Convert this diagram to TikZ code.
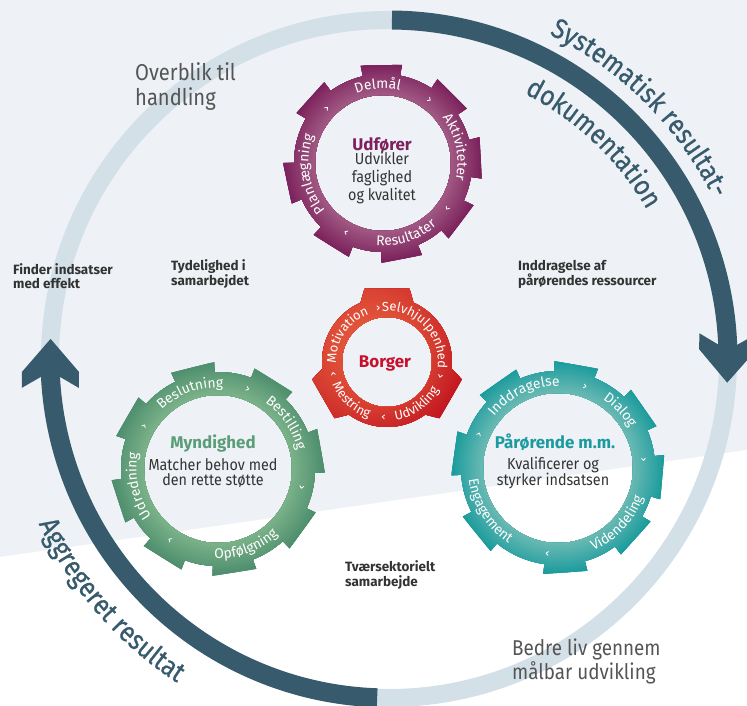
\documentclass[tikz,border=0pt]{standalone}
\usepackage{fontspec}
\setmainfont{Fira Sans}
\newfontfamily\cf[FakeStretch=0.9]{Fira Sans}
\newfontfamily\cfb[FakeStretch=0.88]{Fira Sans}
\newfontfamily\cfh[FakeStretch=0.88,FakeBold=0.6]{Fira Sans}
\usetikzlibrary{decorations.text}
\definecolor{bgc}{HTML}{EEF2F6}
\definecolor{ringlight}{HTML}{D3E0E8}
\definecolor{ringdark}{HTML}{375B6D}
\definecolor{pL}{HTML}{A25B85}
\definecolor{pD}{HTML}{781C58}
\definecolor{rL}{HTML}{E8603F}
\definecolor{rD}{HTML}{C0121F}
\definecolor{gL}{HTML}{7CB38A}
\definecolor{gD}{HTML}{4A8B6B}
\definecolor{tL}{HTML}{6CBAB4}
\definecolor{tD}{HTML}{14999B}
\definecolor{ptitle}{HTML}{7E1F5F}
\definecolor{rtitle}{HTML}{C8102E}
\definecolor{gtitle}{HTML}{5A9D78}
\definecolor{ttitle}{HTML}{1B9AA0}
\definecolor{bodytxt}{HTML}{333333}
\definecolor{greytxt}{HTML}{555555}
\newcommand\gearextrar{\shade[top color=rL, bottom color=rD, shading angle=45, opacity=0.65] (-80,-80) rectangle (80,80);}
% gear: #1 centre, #2 inner r, #3 body r, #4 tooth r, #5 half angle base, #6 half angle top,
% #7 last tooth angle minus 360, #8 ascending tooth angles, #9 colour prefix
\newcommand\gear[9]{%
  \begin{scope}[shift={#1}]
  \begin{scope}[even odd rule]
    \clip ({#7+#5}:#3)
      \foreach \a [remember=\a as \p (initially #7)] in {#8} {
        arc[start angle={\p+#5}, end angle={\a-#5}, radius=#3]
        -- ({\a-#6}:#4) -- ({\a+#6}:#4) -- ({\a+#5}:#3)
      } -- cycle (0,0) circle[radius=#2];
    \foreach \i in {0,...,24} {
      \pgfmathsetmacro\rr{#4+2-\i*(#4+2-#2)/24}
      \pgfmathtruncatemacro\pc{100-\i*100/24}
      \fill[#9D!\pc!#9L] (0,0) circle[radius=\rr];
    }
    \csname gearextra#9\endcsname
  \end{scope}
  \end{scope}}
\newcommand\ringsize{14}
\newcommand\ringfont{\fontsize{\ringsize}{\ringsize}\selectfont\color{white}}
\newcommand\cwl[3]{\path[decorate,decoration={text along path,text align=center,text={|\ringfont|#3}}] ({#1+75}:#2) arc[start angle={#1+75},end angle={#1-75},radius=#2];}
\newcommand\ccwl[3]{\path[decorate,decoration={text along path,text align=center,text={|\ringfont|#3}}] ({#1-75}:#2) arc[start angle={#1-75},end angle={#1+75},radius=#2];}
\newcommand\chev[2]{\draw[chevst] ({#1}:#2) ++({#1+50}:3) -- ({#1}:#2) -- ++({#1-230}:3);}
\newcommand\bigfont{\cfh\fontsize{28}{28}\selectfont\color{ringdark}}
\begin{document}
\begin{tikzpicture}[x=1bp,y=1bp,
  chevst/.style={white, line width=0.8bp, line cap=round, line join=round},
  lbl/.style={inner sep=0pt, anchor=base},
  lblw/.style={inner sep=0pt, anchor=base west},
  title/.style={lbl, font=\fontsize{17}{17}\selectfont\bfseries},
  body/.style={lbl, text=bodytxt, font=\cf\fontsize{16}{16}\selectfont},
  small/.style={lblw, text=bodytxt, font=\fontsize{13.5}{13.5}\selectfont\bfseries},
  light/.style={lblw, text=greytxt},
  arrowhd/.style={fill=ringdark}]
\useasboundingbox (0,0) rectangle (747,706);
\fill[bgc] (0,0) rectangle (747,706);
\fill[white] (0,0) -- (0,149) -- (747,256) -- (747,0) -- cycle;
% big cycle
\coordinate (O) at (389,347);
\draw[ringlight, line width=18bp] (O) circle[radius=339];
\draw[ringdark, line width=19bp] ([shift={(89.5:339)}]O) arc[start angle=89.5,end angle=2.2,radius=339];
\draw[ringdark, line width=19bp] ([shift={(268:339)}]O) arc[start angle=268,end angle=182.8,radius=339];
\begin{scope}[shift={(O)}, shift={(-4:339)}, rotate=-90.8]
  \fill[arrowhd] (0,0) -- (-33,28.5) -- (-49,28.5) -- (-38,9.5) -- (-38,-9.5) -- (-49,-28.5) -- (-33,-28.5) -- cycle;
\end{scope}
\begin{scope}[shift={(O)}, shift={(176.6:339)}, rotate=89.8]
  \fill[arrowhd] (0,0) -- (-33,28.5) -- (-49,28.5) -- (-38,9.5) -- (-38,-9.5) -- (-49,-28.5) -- (-33,-28.5) -- cycle;
\end{scope}
% big curved labels
\begin{scope}[shift={(O)}]
\path[decorate,decoration={text along path,text align=center,text={|\bigfont|Systematisk resultat-}}] (120:362) arc[start angle=120,end angle=-30,radius=362];
\path[decorate,decoration={text along path,text align=center,text={|\bigfont|dokumentation}}] (121.5:298) arc[start angle=121.5,end angle=-28.5,radius=298];
\path[decorate,decoration={text along path,text align=center,text={|\bigfont|Aggregeret resultat}}] (146:387) arc[start angle=146,end angle=296,radius=387];
\end{scope}
% gears
\gear{(383,543)}{68}{89}{100}{12}{12}{-222}{-168,-122,-79,-37,3,45,91,138}{p}
\gear{(387,344)}{45}{65}{77}{24}{17}{-30}{90,210,330}{r}
\gear{(218,237)}{74}{97}{107}{12}{12}{-210}{-162,-122,-81,-36,10,58,104,150}{g}
\gear{(558,238)}{75}{97}{107}{12}{12}{-5}{35,80,125,172,219,274,318,355}{t}
% ring labels
\begin{scope}[shift={(383,543)}]
  \cwl{94}{74.5}{Delmål}
  \cwl{12}{74.5}{Aktiviteter}
  \ccwl{-72}{82.5}{Resultater}
  \cwl{189}{74.5}{Planlægning}
  \chev{135}{78.5}\chev{53}{78.5}\chev{-36}{78.5}\chev{-119}{78.5}
\end{scope}
\renewcommand\ringsize{13}
\begin{scope}[shift={(387,344)}]
  \cwl{146}{51}{Motivation}
  \cwl{44}{51}{Selvhjulpenhed}
  \ccwl{-55}{59}{Udvikling}
  \ccwl{227}{59}{Mestring}
  \chev{98}{55}\chev{-16}{55}\chev{-95}{55}\chev{191}{55}
\end{scope}
\renewcommand\ringsize{14}
\begin{scope}[shift={(218,237)}]
  \cwl{110}{81.5}{Beslutning}
  \cwl{34}{81.5}{Bestilling}
  \ccwl{-70}{89.5}{Opfølgning}
  \cwl{192}{81.5}{Udredning}
  \chev{69}{85.5}\chev{-13}{85.5}\chev{235}{85.5}\chev{149}{85.5}
\end{scope}
\begin{scope}[shift={(558,238)}]
  \cwl{115}{82}{Inddragelse}
  \cwl{43}{82}{Dialog}
  \ccwl{-43}{90}{Videndeling}
  \ccwl{212}{90}{Engagement}
  \chev{71}{86}\chev{5}{86}\chev{-98}{86}\chev{156}{86}
\end{scope}
% gear centre texts
\node[title, text=ptitle] (udf) at (382,555) {Udfører};
\node[body] (udf1) at (382,541) {Udvikler};
\node[body] (udf2) at (382,523) {faglighed};
\node[body] (udf3) at (382,505) {og kvalitet};
\node[title, text=rtitle] (borg) at (385,338) {Borger};
\node[title, text=gtitle] (myn) at (213,257) {Myndighed};
\node[body] (myn1) at (213,235) {Matcher behov med};
\node[body] (myn2) at (213,220) {den rette støtte};
\node[title, text=ttitle] (par) at (555,257) {Pårørende m.m.};
\node[body] (par1) at (553,236) {Kvalificerer og};
\node[body] (par2) at (553,220) {styrker indsatsen};
% free labels
\node[small] (fi1) at (13,431) {Finder indsatser};
\node[small] (fi2) at (13,417) {med effekt};
\node[small] (ty1) at (171,435) {Tydelighed i};
\node[small] (ty2) at (171,420) {samarbejdet};
\node[small] (in1) at (518,435) {Inddragelse af};
\node[small] (in2) at (518,420) {pårørendes ressourcer};
\node[small] (tv1) at (345,134) {Tværsektorielt};
\node[small] (tv2) at (345,119) {samarbejde};
\node[light, font=\cfb\fontsize{23}{23}\selectfont] (ov1) at (135,625) {Overblik til};
\node[light, font=\cfb\fontsize{23}{23}\selectfont] (ov2) at (135,600) {handling};
\node[light, font=\cfb\fontsize{21.5}{21.5}\selectfont] (be1) at (512,50) {Bedre liv gennem};
\node[light, font=\cfb\fontsize{21.5}{21.5}\selectfont] (be2) at (512,26) {målbar udvikling};
\end{tikzpicture}
\end{document}
